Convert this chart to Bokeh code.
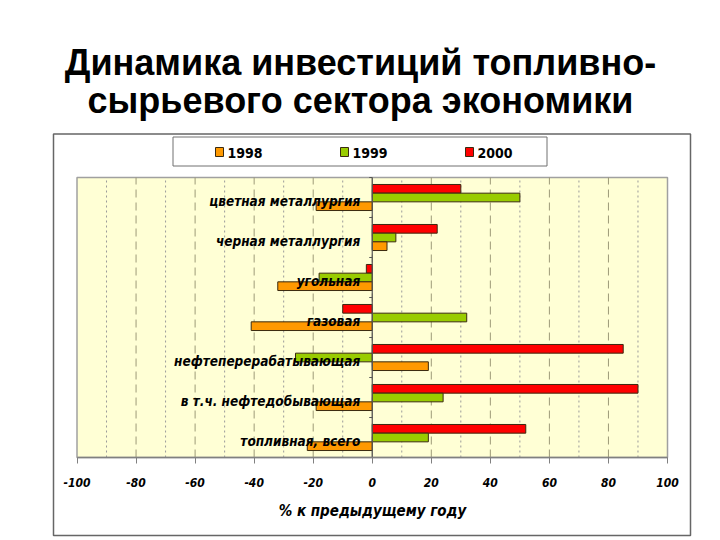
from bokeh.plotting import figure
from bokeh.models import Range1d, ColumnDataSource, FixedTicker, LinearAxis
from bokeh.transform import dodge
from bokeh.core.properties import value
from bokeh.embed import file_html
from bokeh.resources import INLINE

# ---- data ----
categories = ["цветная металлургия", "черная металлургия", "угольная", "газовая",
              "нефтеперерабатывающая", "в т.ч. нефтедобывающая", "топливная, всего"]
v1998 = [-19, 5, -32, -41, 19, -19, -22]
v1999 = [50, 8, -18, 32, -26, 24, 19]
v2000 = [30, 22, -2, -10, 85, 90, 52]
years = ["1998", "1999", "2000"]
x_ticks = [-100, -80, -60, -40, -20, 0, 20, 40, 60, 80, 100]
x_minor = [-90, -70, -50, -30, -10, 10, 30, 50, 70, 90]
tick_labels = ["-100", "-80", "-60", "-40", "-20", "0", "20", "40", "60", "80", "100"]
title_lines = ["Динамика инвестиций топливно-", "сырьевого сектора экономики"]
x_label = "% к предыдущему году"

colors = {"1998": "#FF9900", "1999": "#99CC00", "2000": "#FF0000"}
NARROW = "DejaVu Sans Condensed"
W, H = 720, 540

# ---- pixel layout (canvas px) -> data coordinates ----
PL, PR = 76.5, 667.0          # x = -100 and x = 100
K = (PR - PL) / 200.0         # px per unit
ROW = 40.0                    # px per category
Y0 = 437.0                    # canvas y of the lowest category centre


def fx(px):
    return -100 + (px - PL) / K


def fy(py):
    return (Y0 - py) / ROW


n = len(categories)
pos = [n - 1 - i for i in range(n)]          # top category highest
lo, hi = -0.5, n - 0.5

src = ColumnDataSource(dict(cat=categories, pos=pos,
                            v1998=v1998, v1999=v1999, v2000=v2000))

p = figure(width=W, height=H, output_backend="svg", toolbar_location=None,
           x_range=Range1d(fx(0), fx(W)), y_range=Range1d(fy(H), fy(0)),
           x_axis_location=None, y_axis_location=None,
           min_border=0, min_border_left=0, min_border_right=0,
           min_border_top=0, min_border_bottom=0)
p.outline_line_color = None
p.background_fill_color = "white"
p.border_fill_color = "white"
p.grid.visible = False

# outer frame
p.quad(left=[fx(53)], right=[fx(690)], top=[fy(133.5)], bottom=[fy(535)],
       fill_color=None, line_color="#666666", line_width=1.5)

# plot area
p.quad(left=[-100], right=[100], top=[hi], bottom=[lo],
       fill_color="#FFFFD5", line_color="#A0A0A0", line_width=1.5)

# grid lines
inner_major = x_ticks[1:-1]
p.segment(x0=inner_major, x1=inner_major, y0=[lo] * len(inner_major),
          y1=[hi] * len(inner_major), line_color="#9D9A78", line_width=1,
          line_dash="8 5")
p.segment(x0=x_minor, x1=x_minor, y0=[lo] * len(x_minor), y1=[hi] * len(x_minor),
          line_color="#9A9A9A", line_width=1, line_dash="2 3")

# bars
h = 0.217
for yr, off in (("2000", h), ("1999", 0.0), ("1998", -h)):
    p.hbar(y=dodge("pos", off), left=0, right="v" + yr, height=h,
           source=src, fill_color=colors[yr], line_color="#3A2A10", line_width=1)

# zero line with small tick marks between categories
bounds_y = [lo + i for i in range(n + 1)]
p.segment(x0=[0], x1=[0], y0=[lo], y1=[hi], line_color="#555555", line_width=1.2)
p.segment(x0=[-3.0 / K] * len(bounds_y), x1=[0] * len(bounds_y),
          y0=bounds_y, y1=bounds_y, line_color="#555555", line_width=1)

# x axis at the bottom of the plot area
ticker = FixedTicker(ticks=x_ticks, minor_ticks=x_minor)
ax = LinearAxis(ticker=ticker, fixed_location=lo, bounds=(-100, 100))
ax.major_label_overrides = {t: s for t, s in zip(x_ticks, tick_labels)}
ax.major_tick_out = 6
ax.major_tick_in = 0
ax.minor_tick_in = 0
ax.minor_tick_out = 0
ax.axis_line_color = "#808080"
ax.axis_line_width = 1.5
ax.major_tick_line_color = "#808080"
ax.major_label_text_font = NARROW
ax.major_label_text_font_style = "bold italic"
ax.major_label_text_font_size = "12px"
ax.major_label_text_color = "black"
ax.major_label_standoff = 14
ax.axis_label = x_label
ax.axis_label_text_font = NARROW
ax.axis_label_text_font_style = "bold italic"
ax.axis_label_text_font_size = "15px"
ax.axis_label_text_color = "black"
ax.axis_label_standoff = 12
p.add_layout(ax, "below")

# category labels
p.text(x=0, y="pos", text="cat", source=src, x_offset=-12, y_offset=3,
       text_align="right", text_baseline="middle",
       text_font=value(NARROW), text_font_style="bold italic",
       text_font_size="13.5px", text_color="black")

# legend
p.quad(left=[fx(172.5)], right=[fx(546.5)], top=[fy(136.5)], bottom=[fy(165.5)],
       fill_color="white", line_color="#707070", line_width=1)
sw_px = [215, 340, 465]
p.quad(left=[fx(x) for x in sw_px], right=[fx(x + 8) for x in sw_px],
       top=[fy(147)] * 3, bottom=[fy(156)] * 3,
       fill_color=[colors[y] for y in years], line_color="#3A2A10", line_width=1)
p.text(x=[fx(x + 12) for x in sw_px], y=[fy(152)] * 3, text=years,
       text_align="left", text_baseline="middle",
       text_font=value(NARROW), text_font_style="bold",
       text_font_size="14px", text_color="black")

# title
p.text(x=[fx(360)] * 2, y=[fy(62), fy(100)], text=title_lines,
       text_align="center", text_baseline="alphabetic",
       text_font=value("Liberation Sans"), text_font_style="bold",
       text_font_size="36px", text_color="black")

open("out.html", "w").write(file_html(p, INLINE))
